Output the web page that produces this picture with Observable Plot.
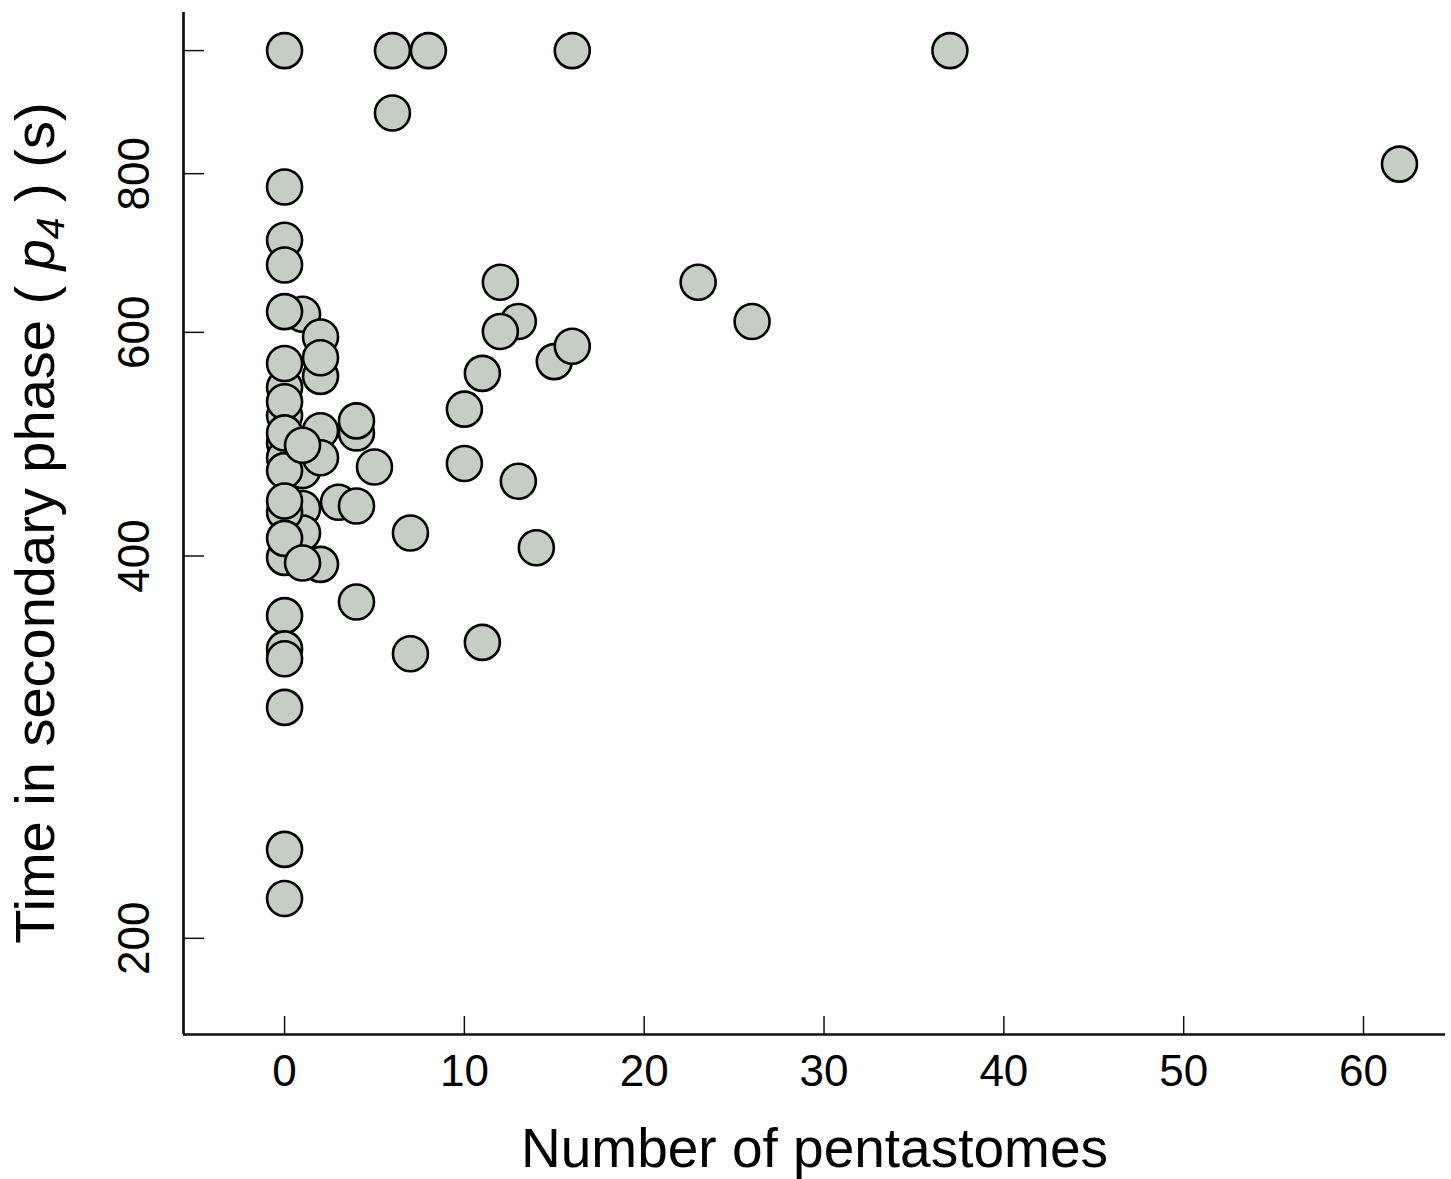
<!DOCTYPE html>
<html>
<head>
<meta charset="utf-8">
<script src="https://cdn.jsdelivr.net/npm/d3@7"></script>
<script src="https://cdn.jsdelivr.net/npm/@observablehq/plot@0.6"></script>
<style>
  html, body { margin: 0; padding: 0; background: #fff; }
</style>
</head>
<body>
<div id="chart"></div>
<script>
// Number of pentastomes per animal (order = drawing order)
const pentastomes = [
  1,1,1,1,
  0,0,0,0,0,0,0,0,0,0,0,0,0,0,0,0,0,0,0,0,0,0,0,
  2,2,2,2,2,2,
  1,1,
  3,
  4,4,4,4,
  5,
  6,6,
  7,7,
  8,
  10,10,
  11,11,
  13,13,
  12,12,
  14,
  15,
  16,16,
  23,
  26,
  37,
  62
];
// Time in secondary phase p4 (s)
const secondsP4 = [
  620,467,436,417,
  1000,781,709,678,623,543,516,491,478,433,399,567,529,500,467,442,413,359,338,332,304,235,215,
  595,554,573,502,478,394,
  489,395,
  441,
  500,511,438,368,
  470,
  1000,893,
  417,335,
  1000,
  522,473,
  557,342,
  612,458,
  657,601,
  406,
  569,
  1000,585,
  657,
  612,
  1000,
  814
];

const xTicks = [0, 10, 20, 30, 40, 50, 60];
const yTicks = [200, 400, 600, 800, 1000];
const yTickLabels = ["200", "400", "600", "800", ""];

const xDomain = [-5.62, 64.56];
const yDomain = [168, 1071.5];

const W = 1451, H = 1179;
const mL = 183, mR = 6, mT = 12, mB = 145;
const frameW = W - mL - mR, frameH = H - mT - mB;
const font = "'Liberation Sans', Arial, Helvetica, sans-serif";

const points = pentastomes.map((n, i) => ({n, t: secondsP4[i]}));

const chart = Plot.plot({
  width: W,
  height: H,
  marginLeft: mL,
  marginRight: mR,
  marginTop: mT,
  marginBottom: mB,
  style: {fontFamily: font, background: "#fff"},
  x: {domain: xDomain, axis: null},
  y: {type: "log", domain: yDomain, axis: null},
  marks: [
    // inward tick marks
    Plot.tickY(yTicks, {y: d => d, insetRight: frameW - 21, stroke: "#111", strokeWidth: 1.5}),
    Plot.tickX(xTicks, {x: d => d, insetTop: frameH - 18, stroke: "#111", strokeWidth: 1.5}),
    // axis lines
    Plot.ruleX([xDomain[0]], {stroke: "#111", strokeWidth: 2.7}),
    Plot.ruleY([yDomain[0]], {stroke: "#111", strokeWidth: 2.7}),
    // tick labels
    Plot.text(xTicks, {x: d => d, text: d => String(d), frameAnchor: "bottom", dy: 20, lineAnchor: "top", fontSize: 44, fill: "#000"}),
    Plot.text(yTicks, {y: d => d, text: (d, i) => yTickLabels[i], frameAnchor: "left", dx: -49, rotate: -90, textAnchor: "middle", lineAnchor: "middle", fontSize: 44, fill: "#000"}),
    // x axis title
    Plot.text(["Number of pentastomes"], {frameAnchor: "bottom", dy: 93, lineAnchor: "top", fontSize: 55, fill: "#000"}),
    // points
    Plot.dot(points, {x: "n", y: "t", r: 17.5, fill: "#c4cec3", stroke: "#000", strokeWidth: 2.6})
  ]
});

// y-axis title with italic p and subscript 4
const svg = d3.select(chart);
const yTitle = svg.append("text")
  .attr("transform", `translate(54,${mT + frameH / 2}) rotate(-90)`)
  .attr("text-anchor", "middle")
  .attr("font-family", font)
  .attr("font-size", 56)
  .attr("fill", "#000");
yTitle.append("tspan").text("Time in secondary phase ( ");
yTitle.append("tspan").attr("font-style", "italic").text("p");
yTitle.append("tspan").attr("font-style", "italic").attr("font-size", 39).attr("dy", "0.25em").text("4");
yTitle.append("tspan").attr("dy", "-0.18em").text(" ) (s)");

document.getElementById("chart").appendChild(chart);
</script>
</body>
</html>
